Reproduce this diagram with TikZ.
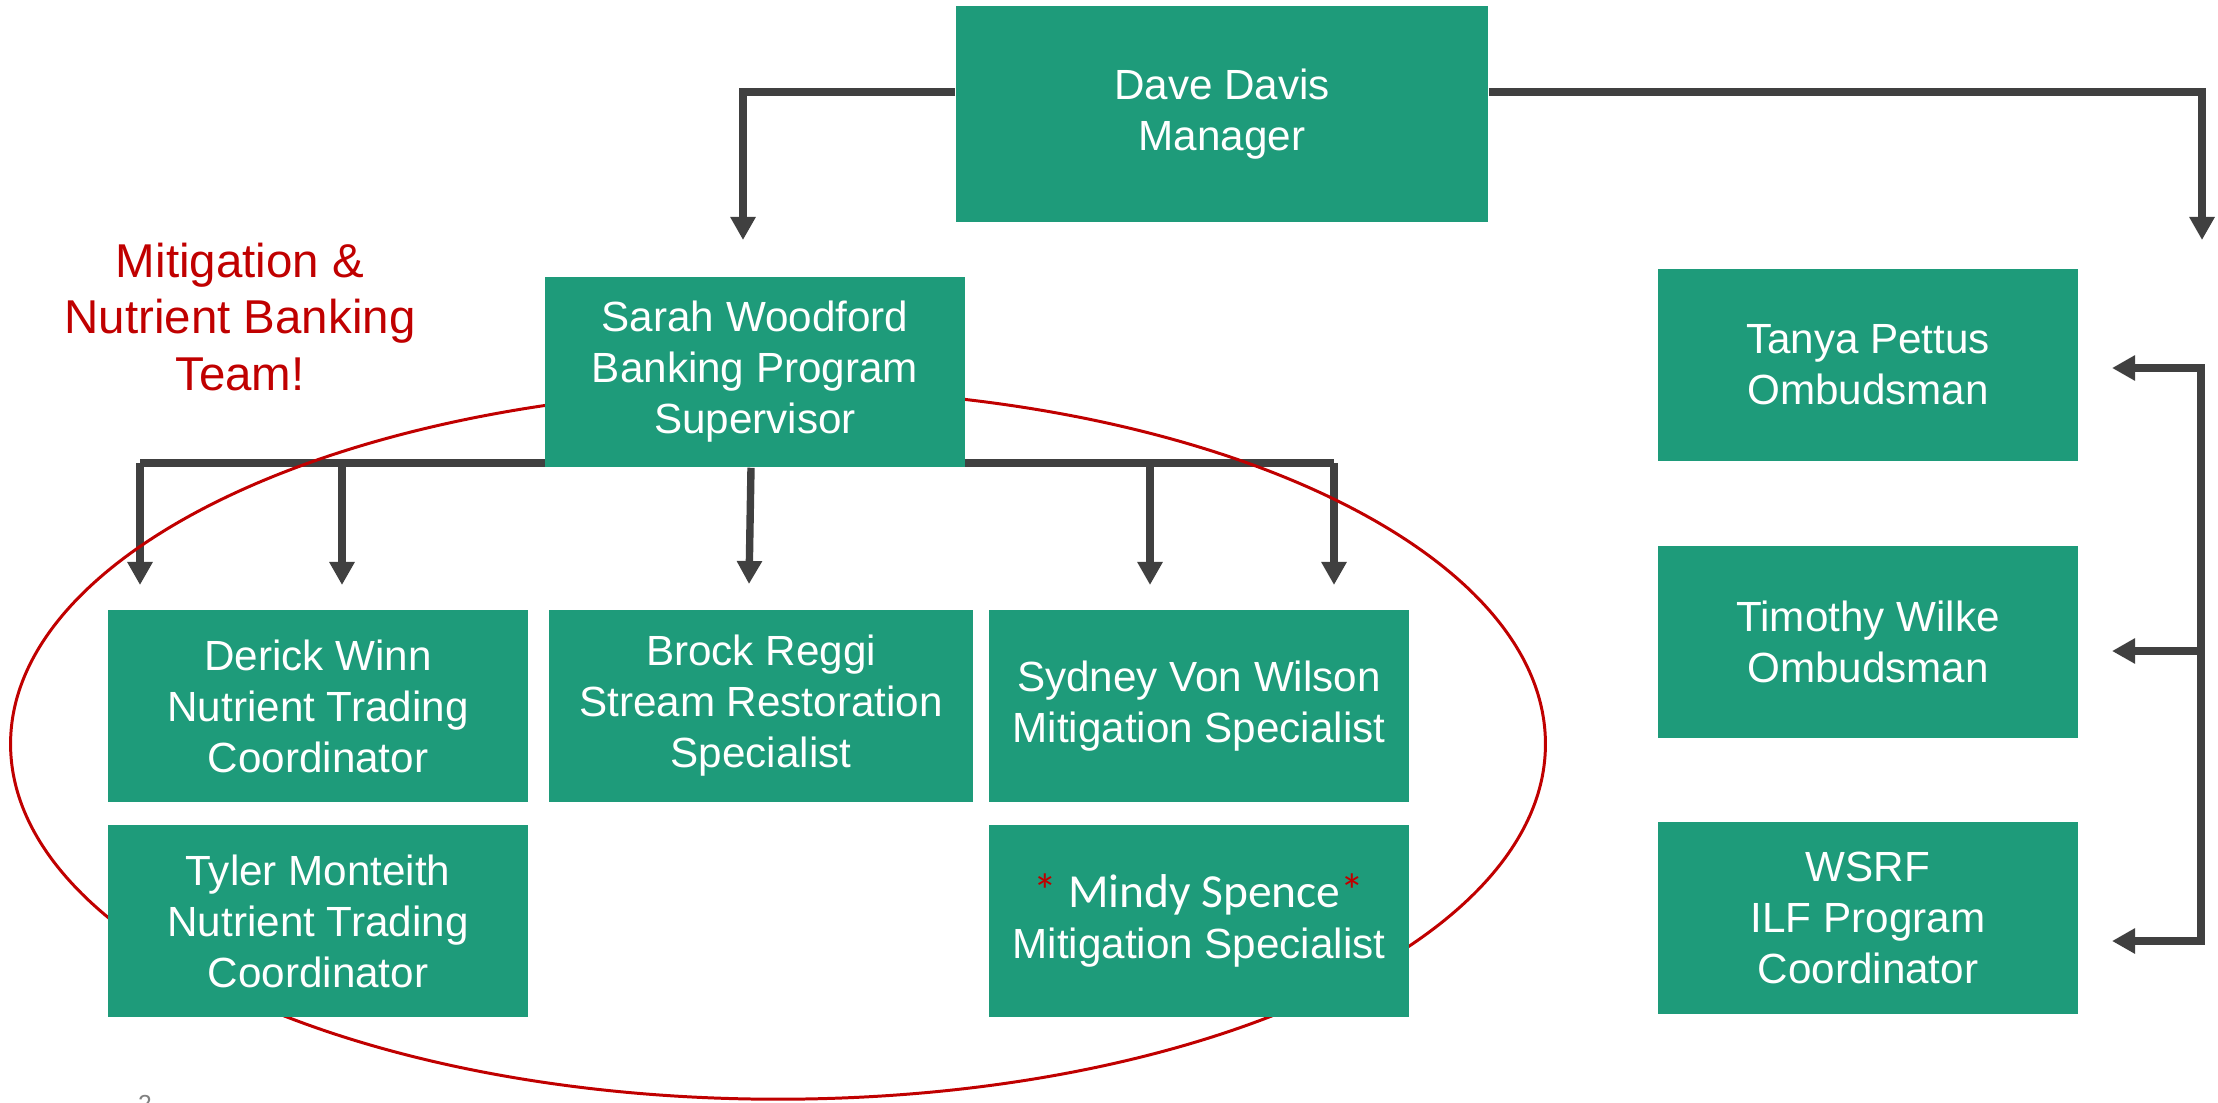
\documentclass[tikz,border=0pt]{standalone}
\usepackage{fontspec}
\setmainfont{Liberation Sans}
\newfontfamily\starfont{Carlito}
\usepackage{tikz}
\usetikzlibrary{arrows.meta,backgrounds,calc}
\usepackage{xcolor}
\definecolor{teamgreen}{RGB}{30,155,122}
\definecolor{linegray}{RGB}{64,64,64}
\definecolor{teamred}{RGB}{192,0,0}
\definecolor{pagegray}{RGB}{128,128,128}

\begin{document}
\begin{tikzpicture}[x=0.01cm,y=-0.01cm,
        >={Triangle[width=0.24cm,length=0.23cm]},
        staffbox/.style={rectangle,fill=teamgreen,text=white,inner sep=0pt,
            minimum width=4.2cm,minimum height=1.91cm,align=center,
            font=\fontsize{12}{14.5}\selectfont},
        link/.style={draw=linegray,line width=2.1pt}]
        \useasboundingbox (0,0) rectangle (2218,1103);

        % Team label
        \node[text=teamred,align=center,font=\fontsize{13.5}{16.2}\selectfont] (teamlabel) at (240,317) {
            Mitigation \&\\ Nutrient Banking\\ Team!
        };

        % Manager and supervisor
        \node[staffbox,minimum width=5.32cm,minimum height=2.16cm] (dave) at (1222,114) {Dave Davis\\ Manager};
        \node[staffbox,minimum height=1.9cm] (sarah) at (755,372) {Sarah Woodford\\ Banking Program\\ Supervisor};

        % Banking team
        \node[staffbox] (derick) at (318,706) {Derick Winn\\ Nutrient Trading\\ Coordinator};
        \node[staffbox] (tyler) at (318,921) {Tyler Monteith\\ Nutrient Trading\\ Coordinator};
        \node[staffbox,minimum width=4.23cm] (brock) at (761,706) {Brock Reggi\\ Stream Restoration\\ Specialist};
        \node[staffbox] (sydney) at (1199,706) {Sydney Von Wilson\\ Mitigation Specialist};
        \node[staffbox] (mindy) at (1199,921) {{\starfont\fontsize{13.5}{14.5}\selectfont\textcolor{teamred}{*}\ Mindy Spence\textcolor{teamred}{*}}\\ Mitigation Specialist};

        % Ombudsmen column
        \node[staffbox] (tanya) at (1868,365) {Tanya Pettus\\ Ombudsman};
        \node[staffbox] (timothy) at (1868,642) {Timothy Wilke\\ Ombudsman};
        \node[staffbox] (wsrf) at (1868,918) {WSRF\\ ILF Program\\ Coordinator};

        % Page number
        \node[text=pagegray,anchor=north,inner sep=0pt,font=\fontsize{7}{8}\selectfont] (pagenum) at (145,1095) {2};

        \begin{pgfonlayer}{background}
            % From the manager
            \coordinate (sarahin) at (743,240);
            \coordinate (rightin) at (2202,240);
            \draw[link,->] ([yshift=0.22cm]dave.west) -| (sarahin);
            \draw[link,->] ([yshift=0.22cm]dave.east) -| (rightin);

            % From the supervisor
            \coordinate (branchL) at (140,463);
            \coordinate (branchR) at (1334,463);
            \draw[link] (branchL) -- (branchR);
            \foreach \x [count=\i] in {140,342,1150,1334} {
                \coordinate (drop\i) at (\x,463);
                \coordinate (tip\i) at (\x,585);
                \draw[link,->] (drop\i) -- (tip\i);
            }
            \coordinate (brockin) at (749,584);
            \draw[link,->] ([xshift=-0.04cm]sarah.south) -- (brockin);

            % Ombudsmen bracket
            \coordinate (tanyain) at (2112,368);
            \coordinate (timothyin) at (2112,651);
            \coordinate (wsrfin) at (2112,941);
            \coordinate (bracketTop) at (2201,368);
            \coordinate (bracketMid) at (2201,651);
            \coordinate (bracketBot) at (2201,941);
            \draw[link,<->] (tanyain) -- (bracketTop) -- (bracketBot) -- (wsrfin);
            \draw[link,->] (bracketMid) -- (timothyin);

            % Team outline
            \draw[teamred,line width=0.85pt] (778,744) ellipse [x radius=7.67cm,y radius=3.55cm];
        \end{pgfonlayer}
    \end{tikzpicture}
\end{document}
